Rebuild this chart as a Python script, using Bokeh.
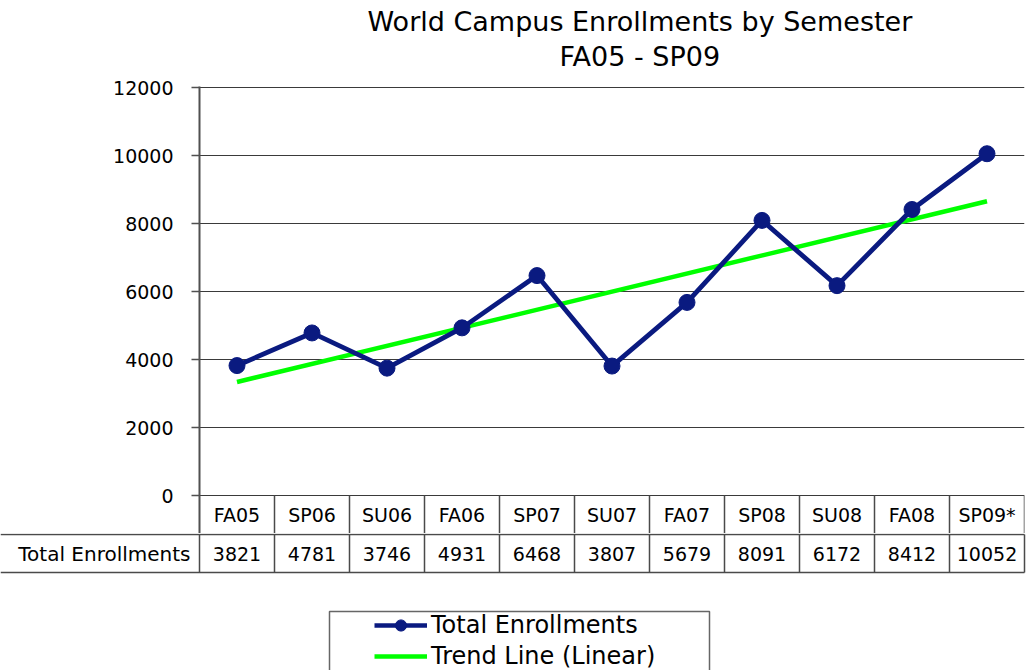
import numpy as np
from bokeh.plotting import figure
from bokeh.models import Range1d, FixedTicker, Title, Legend, LegendItem, ColumnDataSource
from bokeh.layouts import column
from bokeh.core.properties import value
from bokeh.embed import file_html
from bokeh.resources import INLINE

# ---------------- data ----------------
categories = ["FA05", "SP06", "SU06", "FA06", "SP07", "SU07", "FA07", "SP08", "SU08", "FA08", "SP09*"]
enrollments = [3821, 4781, 3746, 4931, 6468, 3807, 5679, 8091, 6172, 8412, 10052]
y_ticks = [0, 2000, 4000, 6000, 8000, 10000, 12000]
row_label = "Total Enrollments"
series_names = ["Total Enrollments", "Trend Line (Linear)"]
title_lines = ["World Campus Enrollments by Semester", "FA05 - SP09"]

FONT = "DejaVu Sans"
NAVY = "#0a1a80"
LIME = "#00ff00"
GRIDC = "#3a3a3a"
TABLEC = "#4a4a4a"

n = len(categories)
xs = np.arange(n) + 0.5
slope, intercept = np.polyfit(np.arange(n), enrollments, 1)
trend_x = [xs[0], xs[-1]]
trend_y = [intercept, intercept + slope * (n - 1)]

# ---------------- layout constants ----------------
W = 1026
FRAME_L = 199          # px of the chart frame's left edge
COL = 75.0             # px per category column
PX = 0.034             # px per enrollment unit
A_H = 533
B_H = 137

# ---------------- chart figure ----------------
A = figure(width=W, height=A_H, output_backend="svg", toolbar_location=None,
           title=None, x_range=Range1d(0, n), y_range=Range1d(-38 / PX, 12000 + 1 / PX),
           x_axis_location="above", min_border_left=FRAME_L, min_border_right=2,
           min_border_top=86, min_border_bottom=0, background_fill_color="white",
           border_fill_color="white")
A.frame_align = False
A.outline_line_color = None
A.xgrid.visible = False
A.ygrid.ticker = FixedTicker(ticks=y_ticks)
A.ygrid.grid_line_color = GRIDC
A.ygrid.grid_line_width = 1.2

# top axis only used as a spacer under the titles (invisible)
xa = A.xaxis[0]
xa.ticker = FixedTicker(ticks=[0])
xa.major_label_overrides = {0: ""}
xa.axis_line_color = None
xa.major_tick_out = 14
xa.major_tick_in = 0
xa.major_tick_line_color = None
xa.minor_tick_line_color = None
xa.major_label_standoff = 0

ax = A.yaxis[0]
ax.ticker = FixedTicker(ticks=y_ticks)
ax.axis_line_color = "#505050"
ax.axis_line_width = 2
ax.major_tick_line_color = "#505050"
ax.major_tick_line_width = 1.5
ax.major_tick_out = 8
ax.major_tick_in = 0
ax.minor_tick_line_color = None
ax.major_label_standoff = 18
ax.major_label_text_font = FONT
ax.major_label_text_font_size = "19px"
ax.major_label_text_color = "black"

A.add_layout(Title(text=title_lines[1], align="left", offset=360, text_font=FONT,
                   text_font_size="27px", text_font_style="normal", text_color="black",
                   standoff=2), "above")
A.add_layout(Title(text=title_lines[0], align="left", offset=168, text_font=FONT,
                   text_font_size="27px", text_font_style="normal", text_color="black",
                   standoff=2), "above")

# category row separators and labels
A.segment(x0=np.arange(1, n + 1), x1=np.arange(1, n + 1), y0=0, y1=-2000,
          line_color=TABLEC, line_width=1.5)
A.text(x=xs, y=[-38 / PX / 2] * n, text=categories, text_align="center",
       text_baseline="middle", text_font=value(FONT), text_font_size="19px",
       text_color="black")

A.line(x=trend_x, y=trend_y, line_color=LIME, line_width=4.5)
A.line(x=xs, y=enrollments, line_color=NAVY, line_width=4.8)
A.scatter(x=xs, y=enrollments, marker="circle", size=16, fill_color=NAVY, line_color=NAVY)

# ---------------- table / legend figure (frame spans the full width) ----------------
x_start = -FRAME_L / COL
B = figure(width=W, height=B_H, output_backend="svg", toolbar_location=None,
           title=None, x_range=Range1d(x_start, (W - FRAME_L) / COL),
           y_range=Range1d(B_H - 1, -1),
           x_axis_location=None, y_axis_location=None, min_border=0,
           background_fill_color="white", border_fill_color="white")
B.frame_align = False
B.outline_line_color = None
for g in B.grid:
    g.visible = False

B.segment(x0=[x_start, x_start], x1=[n, n], y0=[0, 38], y1=[0, 38],
          line_color=TABLEC, line_width=1.5)
B.segment(x0=np.arange(0, n + 1), x1=np.arange(0, n + 1), y0=0, y1=38,
          line_color=TABLEC, line_width=1.5)
B.text(x=xs, y=[19] * n, text=[str(v) for v in enrollments], text_align="center",
       text_baseline="middle", text_font=value(FONT), text_font_size="19px",
       text_color="black")
B.text(x=[-0.12], y=[19], text=[row_label], text_align="right", text_baseline="middle",
       text_font=value(FONT), text_font_size="20px", text_color="black")

# legend box
B.quad(left=[(329 - FRAME_L) / COL], right=[(709 - FRAME_L) / COL], top=[77], bottom=[150],
       fill_color=None, line_color="#666666", line_width=1.5)

off = ColumnDataSource(data=dict(x=[-50, -49], y=[-50, -50]))
l1 = B.line(x="x", y="y", source=off, line_color=NAVY, line_width=4.5)
s1 = B.scatter(x="x", y="y", source=off, marker="circle", size=16,
               fill_color=NAVY, line_color=NAVY)
l2 = B.line(x="x", y="y", source=off, line_color=LIME, line_width=4.5)

legend = Legend(items=[LegendItem(label=series_names[0], renderers=[l1, s1]),
                       LegendItem(label=series_names[1], renderers=[l2])],
                location=(374, 0), padding=0, margin=0, spacing=3,
                label_height=28, glyph_height=28, glyph_width=53, label_standoff=4,
                label_text_font=FONT, label_text_font_size="24px",
                label_text_color="black", border_line_alpha=0,
                background_fill_alpha=0)
B.add_layout(legend)

layout = column(A, B, spacing=0)
open("out.html", "w").write(file_html(layout, INLINE))
